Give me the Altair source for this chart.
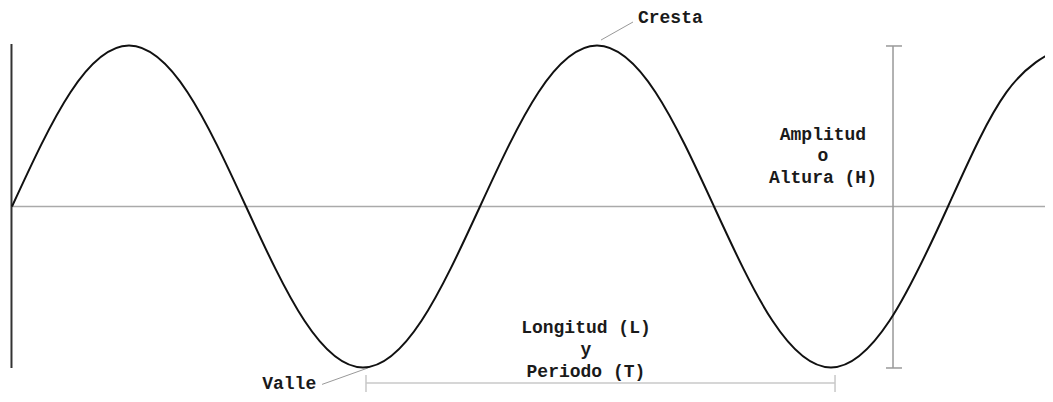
import altair as alt
import pandas as pd

# Wave: phase (degrees) and displacement (amplitude units)
wave_phase = [0, 45, 90, 135, 180, 225, 270, 315, 360, 405, 450, 495, 540, 585, 630, 675, 720, 765, 810]
wave_value = [0, 0.71, 1, 0.71, 0, -0.71, -1, -0.71, 0, 0.71, 1, 0.71, 0, -0.71, -1, -0.71, 0, 0.71, 1]

# Axis / bracket segments (phase, value)
left_bar = {"x": [-0.4], "x2": [-0.4], "y": [1.009], "y2": [-1.003]}
mid_line = {"x": [0], "x2": [810], "y": [0], "y2": [0]}
amp_bracket = {"x": [677.7, 672.3, 672.3], "x2": [677.7, 684.6, 684.6],
               "y": [0.997, 0.997, -1.003], "y2": [-1.003, 0.997, -1.003]}
per_bracket = {"x": [272.3, 272.3, 633.1], "x2": [633.1, 272.3, 633.1],
               "y": [-1.096, -1.047, -1.047], "y2": [-1.096, -1.152, -1.152]}
leaders = {"x": [453.1, 273.8], "x2": [477.7, 238.5], "y": [1.034, -1.003], "y2": [1.146, -1.105]}

# Labels
center_text = ["Amplitud", "o", "Altura (H)", "Longitud (L)", "y", "Periodo (T)"]
center_x = [623.8, 623.8, 623.8, 441.5, 441.5, 441.5]
center_y = [0.413, 0.283, 0.146, -0.786, -0.922, -1.059]
cresta = {"text": ["Cresta"], "x": [481.5], "y": [1.140]}
valle = {"text": ["Valle"], "x": [234.0], "y": [-1.134]}

xs = alt.Scale(domain=[-3.0769, 794.615], nice=False, zero=False)
ys = alt.Scale(domain=[-1.1646, 1.2329], nice=False, zero=False)

def seg(d, color, width, clip=False):
    return alt.Chart(pd.DataFrame(d)).mark_rule(color=color, strokeWidth=width, clip=clip).encode(
        x=alt.X("x:Q", scale=xs, axis=None), x2="x2:Q",
        y=alt.Y("y:Q", scale=ys, axis=None), y2="y2:Q")

font = dict(font="Liberation Mono", fontWeight="bold", fontSize=18, color="#1a1a1a", baseline="alphabetic")

def txt(df, align):
    return alt.Chart(df).mark_text(align=align, **font).encode(
        x=alt.X("x:Q", scale=xs, axis=None), y=alt.Y("y:Q", scale=ys, axis=None), text="text:N")

wave = alt.Chart(pd.DataFrame({"x": wave_phase, "y": wave_value})).mark_line(
    color="#111", strokeWidth=2, interpolate="natural", clip=True).encode(
    x=alt.X("x:Q", scale=xs, axis=None), y=alt.Y("y:Q", scale=ys, axis=None))

chart = alt.layer(
    seg(mid_line, "#aaaaaa", 1.5, clip=True),
    seg(left_bar, "#333333", 2),
    seg(amp_bracket, "#999999", 1.5),
    seg(per_bracket, "#c8c8c8", 1.5),
    seg(leaders, "#999999", 1),
    wave,
    txt(pd.DataFrame({"text": center_text, "x": center_x, "y": center_y}), "center"),
    txt(pd.DataFrame(cresta), "left"),
    txt(pd.DataFrame(valle), "right"),
).properties(
    width=1037, height=386, padding=0, background="white",
    autosize=alt.AutoSizeParams(type="none")
).configure_view(stroke=None)

chart.save("out.html", embed_options={"renderer": "svg", "actions": False})
